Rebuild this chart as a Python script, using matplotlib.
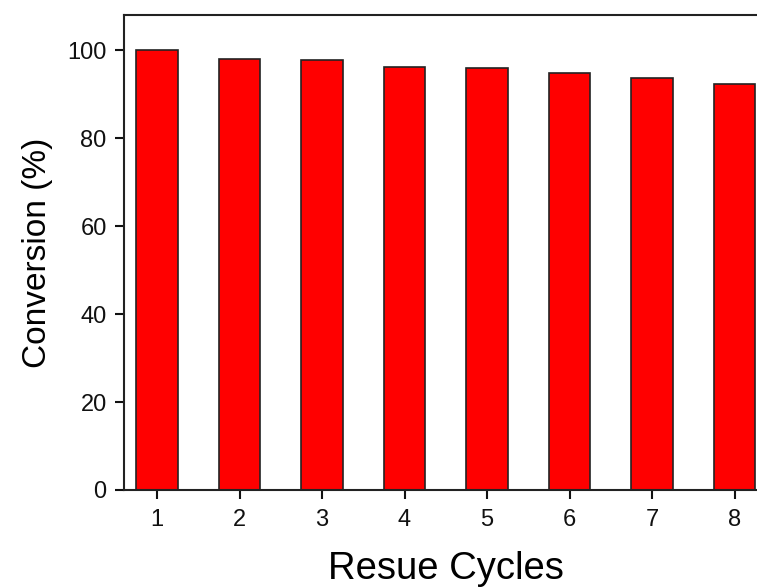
import matplotlib.pyplot as plt
import numpy as np

plt.rcParams['font.family'] = ['Liberation Sans', 'DejaVu Sans']

cycles = [1, 2, 3, 4, 5, 6, 7, 8]
conversion = [100.0, 98.1, 97.7, 96.2, 96.0, 94.7, 93.6, 92.2]

fig = plt.figure(figsize=(7.57, 5.87), dpi=100)
# the frame runs a little past the right edge of the figure
ax = fig.add_axes([124 / 757, 97 / 587, 643.5 / 757, 475 / 587])

ax.bar(cycles, conversion, width=0.5, color='#ff0000', edgecolor='#222222', linewidth=1.2)

ax.set_xlim(0.6, 8.4)
ax.set_ylim(0, 108)
ax.set_xticks(cycles)
ax.set_yticks(np.arange(0, 101, 20))

for s in ax.spines.values():
    s.set_linewidth(1.5)
    s.set_color('#222222')
ax.tick_params(direction='out', length=6.5, width=1.5, labelsize=17, pad=6, colors='#111111')
ax.tick_params(axis='x', pad=7)

ax.set_xlabel('Resue Cycles', fontsize=27.5, labelpad=14.5)
ax.set_ylabel('Conversion (%)', fontsize=24, labelpad=10)

plt.savefig('out.png', dpi=100)
